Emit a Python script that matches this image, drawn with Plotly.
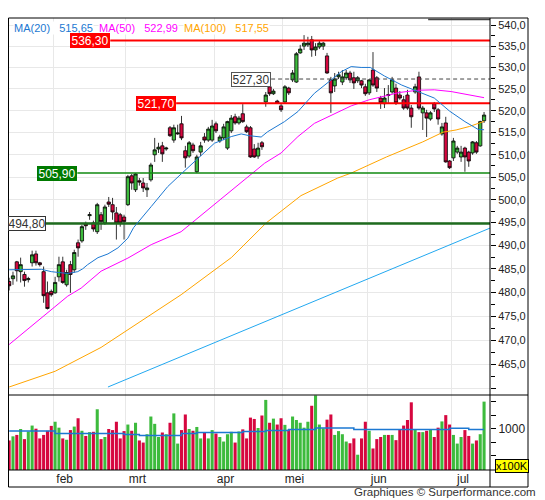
import math
import plotly.graph_objects as go

# one candle per trading day
opens = [482.3, 482.9, 486.5, 484.4, 483.8, 482.7, 486.3, 488.2, 486.3, 484.4,
         479.9, 480.2, 479.9, 483.3, 486.5, 481.6, 485.9, 484.8, 490.6, 491.0,
         494.7, 496.5, 494.9, 493.0, 496.7, 494.9, 499.5, 498.9, 497.1, 496.7,
         496.2, 498.9, 505.3, 502.2, 504.2, 503.7, 502.2, 504.4, 510.0, 511.3,
         512.0, 511.3, 516.1, 513.3, 514.7, 517.0, 510.9, 509.7, 512.2, 506.2,
         510.6, 514.0, 513.3, 513.3, 517.0, 513.1, 513.8, 511.5, 515.4, 518.6,
         517.2, 519.3, 516.3, 516.1, 511.3, 509.7, 512.7, 522.0, 525.5, 523.9,
         522.2, 521.1, 522.0, 525.2, 527.1, 526.6, 533.4, 535.0, 535.3, 536.5,
         534.1, 534.8, 535.0, 532.7, 527.1, 525.7, 527.8, 526.6, 527.6, 528.7,
         527.6, 526.9, 526.9, 525.5, 524.1, 529.4, 527.6, 522.9, 521.6, 523.7,
         524.3, 525.2, 523.6, 522.5, 523.6, 520.6, 524.3, 527.8, 519.5, 519.5,
         518.1, 521.6, 520.2, 514.7, 517.2, 508.6, 509.3, 510.6, 509.5, 511.5,
         510.6, 510.4, 512.7, 512.0, 517.7]
highs = [483.1, 484.4, 486.7, 487.4, 484.4, 483.3, 488.9, 488.9, 486.5, 485.5,
         482.3, 480.6, 483.3, 487.6, 487.6, 484.8, 486.7, 489.1, 491.3, 494.5,
         495.2, 497.3, 495.4, 499.3, 497.3, 498.9, 500.6, 500.4, 498.4, 497.1,
         496.7, 505.5, 505.7, 505.9, 504.8, 504.8, 503.7, 508.2, 513.8, 512.7,
         512.9, 511.8, 516.5, 516.8, 516.8, 518.8, 512.0, 513.1, 512.7, 510.0,
         512.9, 514.9, 516.3, 517.9, 517.5, 514.5, 517.0, 517.7, 519.0, 519.3,
         518.8, 521.5, 516.8, 516.5, 512.4, 512.7, 513.1, 524.3, 526.2, 525.0,
         522.5, 521.6, 525.9, 525.5, 529.4, 533.6, 535.3, 537.6, 537.2, 537.4,
         535.7, 536.2, 536.0, 533.4, 527.8, 528.7, 529.0, 529.4, 529.4, 529.2,
         529.0, 528.0, 527.1, 526.2, 527.3, 533.6, 528.0, 523.4, 525.2, 525.9,
         527.8, 526.2, 524.5, 523.4, 524.8, 521.3, 526.2, 529.0, 521.1, 520.2,
         519.9, 522.0, 520.6, 517.2, 518.6, 508.8, 513.8, 512.0, 512.0, 511.8,
         510.9, 513.1, 513.1, 517.7, 519.7]
lows = [480.4, 481.6, 482.3, 482.1, 481.2, 482.1, 485.5, 485.7, 485.5, 477.8,
        476.4, 479.1, 479.7, 482.3, 481.8, 481.2, 479.9, 484.2, 487.6, 490.6,
        493.4, 495.6, 493.0, 492.5, 493.4, 494.5, 498.4, 495.6, 491.3, 494.1,
        491.3, 498.6, 502.2, 501.7, 503.1, 501.7, 500.6, 504.0, 508.4, 510.4,
        508.4, 510.9, 514.0, 512.7, 514.5, 513.3, 507.1, 509.3, 510.4, 505.9,
        509.7, 512.7, 512.9, 512.9, 514.9, 512.7, 513.3, 511.1, 514.9, 516.8,
        516.8, 517.2, 514.9, 509.3, 509.3, 509.1, 511.1, 520.9, 523.4, 523.6,
        521.6, 519.7, 521.8, 523.6, 526.6, 526.4, 533.2, 534.1, 534.8, 532.5,
        532.7, 534.3, 534.1, 528.5, 519.5, 524.3, 527.3, 525.9, 527.1, 526.4,
        525.0, 526.4, 525.2, 523.4, 523.6, 525.5, 524.3, 520.4, 520.6, 521.8,
        523.9, 521.3, 522.5, 520.2, 520.2, 516.1, 523.9, 520.2, 515.6, 514.0,
        517.7, 519.7, 516.8, 514.3, 508.2, 506.8, 508.6, 510.2, 508.4, 506.2,
        507.3, 510.0, 510.2, 511.8, 517.2]
closes = [481.4, 483.5, 484.6, 485.9, 482.5, 482.9, 488.0, 486.3, 485.9, 479.3,
          476.6, 479.5, 482.1, 485.9, 482.1, 484.2, 483.8, 488.5, 489.5, 494.1,
          494.3, 496.7, 493.6, 498.9, 495.2, 498.4, 499.0, 497.3, 494.9, 494.9,
          495.2, 505.1, 503.7, 505.7, 503.9, 502.6, 502.6, 507.7, 511.1, 511.7,
          510.2, 511.5, 514.3, 516.1, 514.9, 513.8, 509.3, 512.7, 510.9, 509.5,
          512.0, 513.3, 515.8, 516.5, 515.4, 514.0, 516.3, 517.5, 518.3, 517.2,
          518.3, 517.5, 515.2, 509.5, 509.5, 511.5, 511.8, 523.6, 523.9, 524.5,
          521.7, 520.2, 525.5, 524.1, 528.7, 533.2, 534.3, 535.7, 535.7, 534.1,
          534.8, 535.7, 535.7, 528.7, 524.1, 527.3, 528.3, 527.8, 528.7, 527.1,
          526.4, 527.6, 525.9, 523.9, 527.1, 525.9, 525.2, 521.8, 522.9, 523.5,
          527.1, 521.8, 522.9, 520.6, 520.6, 518.6, 525.5, 520.6, 520.6, 518.3,
          519.5, 520.4, 518.1, 516.3, 508.4, 507.1, 513.1, 511.5, 510.6, 509.5,
          508.6, 512.9, 510.6, 517.5, 519.0]

# volume in units of 100K
volumes = [781, 858, 884, 994, 806, 948, 1058, 1000, 819, 884,
           961, 1052, 1129, 1019, 819, 794, 974, 1039, 1194, 961,
           865, 936, 942, 1361, 806, 845, 994, 974, 1129, 819,
           955, 1077, 961, 1110, 781, 742, 897, 1226, 1090, 845,
           929, 897, 1110, 1284, 723, 974, 1264, 994, 961, 1032,
           819, 923, 819, 974, 910, 845, 761, 897, 942, 742,
           948, 987, 819, 1206, 1181, 1013, 1245, 1535, 1110, 1187,
           1077, 1194, 1071, 981, 1226, 1161, 1110, 1019, 1129, 1426,
           1619, 1077, 1006, 1168, 1264, 884, 955, 897, 761, 729,
           819, 516, 819, 1129, 961, 632, 806, 845, 884, 884,
           884, 787, 994, 1058, 1161, 1490, 987, 936, 936, 961,
           987, 845, 1019, 1135, 1252, 1077, 884, 723, 845, 974,
           865, 723, 781, 897, 1503]
vol_ma_x = [0, 12, 30, 34, 45, 49, 61, 67, 73, 80, 90, 102, 115, 120, 124]
vol_ma_y = [955, 910, 890, 871, 910, 929, 948, 968, 987, 1013, 987, 987, 1006, 987, 987]

# month labels, index of first trading day of each month
month_names = ["feb", "mrt", "apr", "mei", "jun", "jul"]
month_start = [12, 31, 54, 72, 94, 116]

# moving averages
ma20_x = [0, 8.4, 11, 12.7, 15.3, 17.9, 19.2, 20.5, 23.2, 25.8, 28.4, 31, 32.5, 37.1, 41.4,
          44.9, 49.2, 53.6, 58, 60.6, 62.7, 65.8, 67.5, 71.9, 75.4, 79.7, 84.1, 86.7, 89.3,
          91.9, 94.3, 98, 102.5, 107, 111, 115, 119, 122.5, 124]
ma20_y = [484.8, 484.9, 484.4, 484.2, 484.0, 484.4, 485.0, 485.9, 487.4, 488.2, 489.5, 491.6,
          493.9, 498.5, 502.9, 505.7, 509.2, 512.6, 514.1, 514.7, 514.3, 514.0, 515.2, 517.5,
          519.8, 524.0, 527.1, 529.0, 530.2, 530.0, 530.0, 528.0, 525.9, 524.4, 522.9, 519.9,
          517.5, 515.7, 515.65]
ma50_x = [0, 7.9, 15.3, 18.8, 24, 31, 37.1, 44.9, 52.7, 61.4, 66.7, 71, 75.4, 79.7, 84.1,
          89.3, 94, 98, 102, 106.7, 111, 115.4, 119.8, 124]
ma50_y = [469.1, 474.3, 479.2, 480.9, 484.5, 487.3, 490.2, 493.0, 498.4, 504.4, 508.1, 510.4,
          514.1, 517.1, 519.0, 521.1, 522.5, 523.4, 524.2, 524.7, 524.8, 524.4, 523.6, 522.99]
ma100_x = [0, 12, 24, 35.2, 44.9, 58, 67.1, 76.2, 85.8, 89.3, 98.5, 108, 113.3, 116.7, 120.2, 124]
ma100_y = [460.4, 463.6, 468.5, 474.3, 479.5, 487.4, 494.9, 500.9, 504.8, 505.9, 509.5, 512.9,
           515.1, 515.6, 516.4, 517.55]
ma200_x = [25.8, 50, 75, 100, 124, 125.6]
ma200_y = [460.4, 468.3, 476.6, 485.0, 493.2, 493.8]

legend_names = ["MA(20)", "MA(50)", "MA(100)"]
legend_values = ["515,65", "522,99", "517,55"]

# horizontal levels: value, label, day where the line starts
level_values = [536.30, 527.30, 521.70, 505.90, 494.80]
level_labels = ["536,30", "527,30", "521,70", "505,90", "494,80"]
level_start = [26.4, 68.4, 43.6, 17.8, 9.6]

# short unlabeled level touching the top of the chart
top_level = 541.3
top_level_start = 109.4

price_ticks = [460 + 5 * k for k in range(17)]

GREEN = "#3DBB3D"
RED = "#D6073F"
X_MIN, X_MAX = -0.3, 125.55

# the page puts the figure 8px from the window corner; everything below is
# laid out in window pixels minus that offset
PAGE = 8
W, H = 545 - PAGE, 500 - PAGE
ML, MR, MT, MB = 0, 55, 10, 30
PW = W - ML - MR
PH = H - MT - MB


def px_x(px):
    return (px - PAGE - ML) / PW


def px_y(py):
    return (H - MB - (py - PAGE)) / PH


level_style = {
    "536,30": dict(line="#FF0000", width=2, dash="solid", bg="#FF0000", fg="white",
                   border="#FF0000", box=38),
    "527,30": dict(line="#444444", width=1, dash="4px,3px", bg="white", fg="#333333",
                   border="#555555", box=38),
    "521,70": dict(line="#FF0000", width=2, dash="solid", bg="#FF0000", fg="white",
                   border="#FF0000", box=38),
    "505,90": dict(line="#108A10", width=1.5, dash="solid", bg="#007A00", fg="white",
                   border="#007A00", box=38),
    "494,80": dict(line="#1E6B1E", width=2.5, dash="solid", bg="white", fg="#333333",
                   border="#333333", box=36),
}

days = list(range(len(closes)))
vol_colors = [GREEN if c >= o else RED for o, c in zip(opens, closes)]

fig = go.Figure()

fig.add_trace(go.Scatter(x=ma200_x, y=ma200_y, mode="lines",
                         line=dict(color="#22A8F0", width=1), hoverinfo="skip"))
fig.add_trace(go.Scatter(x=ma100_x, y=ma100_y, mode="lines",
                         line=dict(color="#FFA500", width=1), hoverinfo="skip"))
fig.add_trace(go.Scatter(x=ma50_x, y=ma50_y, mode="lines",
                         line=dict(color="#FF00FF", width=1), hoverinfo="skip"))

for val, lab, x0 in zip(level_values, level_labels, level_start):
    st = level_style[lab]
    fig.add_trace(go.Scatter(x=[x0, X_MAX], y=[val, val], mode="lines",
                             line=dict(color=st["line"], width=st["width"], dash=st["dash"]),
                             hoverinfo="skip"))
fig.add_trace(go.Scatter(x=[top_level_start, X_MAX], y=[top_level, top_level], mode="lines",
                         line=dict(color="#444444", width=1.5), hoverinfo="skip"))

fig.add_trace(go.Scatter(x=ma20_x, y=ma20_y, mode="lines",
                         line=dict(color="#1C78D2", width=1), hoverinfo="skip"))

fig.add_trace(go.Candlestick(
    x=days, open=opens, high=highs, low=lows, close=closes,
    increasing=dict(fillcolor=GREEN, line=dict(color="black", width=0.8)),
    decreasing=dict(fillcolor=RED, line=dict(color="black", width=0.8)),
    whiskerwidth=0,
))

fig.add_trace(go.Bar(x=days, y=volumes, marker=dict(color=vol_colors, line=dict(width=0)),
                     xaxis="x2", yaxis="y2", hoverinfo="skip"))
fig.add_trace(go.Scatter(x=vol_ma_x, y=vol_ma_y, mode="lines", line_shape="hv",
                         line=dict(color="#1C78D2", width=1.5), xaxis="x2", yaxis="y2",
                         hoverinfo="skip"))

VOL_TOP = 75 / PH  # volume panel is 75px tall
grid = "#E8E8E8"
fig.update_layout(
    width=W, height=H,
    margin=dict(l=ML, r=MR, t=MT, b=MB, pad=0),
    paper_bgcolor="white", plot_bgcolor="white",
    showlegend=False,
    boxgap=0.15, boxgroupgap=0,
    bargap=0.2,
    font=dict(family="Liberation Sans, Arial, sans-serif", size=11, color="#222222"),
    xaxis=dict(domain=[0, 1], anchor="y", range=[X_MIN, X_MAX],
               rangeslider=dict(visible=False),
               tickvals=[m - 0.5 for m in month_start], showticklabels=False, ticks="",
               showgrid=True, gridcolor=grid, zeroline=False, showline=False),
    xaxis2=dict(domain=[0, 1], anchor="y2", matches="x",
                tickvals=[m + 2.5 for m in month_start], ticktext=month_names,
                ticks="", showgrid=False, zeroline=False, showline=False,
                tickfont=dict(size=12, color="#222222"),
                minor=dict(tickmode="array", tickvals=[m - 0.5 for m in month_start],
                           showgrid=True, gridcolor=grid, ticks="")),
    yaxis=dict(domain=[VOL_TOP, 1], anchor="x", type="log", side="right",
               range=[math.log10(458.78), math.log10(541.67)],
               tickvals=price_ticks,
               ticktext=["" if v == 460 else f"{v:.1f}".replace(".", ",") for v in price_ticks],
               ticks="outside", ticklen=5, tickcolor="black",
               showgrid=True, gridcolor=grid, zeroline=False, showline=False,
               minor=dict(tickmode="array", tickvals=[v + 2.5 for v in price_ticks],
                          ticks="outside", ticklen=4, tickcolor="black", showgrid=False)),
    yaxis2=dict(domain=[0, VOL_TOP], anchor="x2", side="right", range=[232, 1626],
                tickvals=[500, 750, 1000, 1250, 1500], ticktext=["", "", "1000", "", ""],
                ticks="outside", ticklen=5, tickcolor="black",
                showgrid=False, zeroline=False, showline=False,
                tickfont=dict(size=12)),
)

# frame around the whole chart
FR = px_x(528)
FB = px_y(487)
FL = px_x(8.5)
frame = [
    dict(x0=FL, x1=FR, y0=FB, y1=1, type="rect"),
    dict(x0=1, x1=1, y0=FB, y1=1, type="line"),
    dict(x0=FL, x1=FR, y0=0, y1=0, type="line"),
    dict(x0=FL, x1=FR, y0=VOL_TOP, y1=VOL_TOP, type="line"),
]
for s in frame:
    fig.add_shape(xref="paper", yref="paper", line=dict(color="black", width=1), **s)

# legend of the moving averages
legend_colors = ["#1C78D2", "#FF00FF", "#FFA500"]
legend_px = [13, 98, 183]
for name, value, col, px in zip(legend_names, legend_values, legend_colors, legend_px):
    fig.add_annotation(xref="paper", yref="paper", x=px_x(px), y=px_y(27.5),
                       xanchor="left", yanchor="middle", showarrow=False,
                       text=name + "&nbsp;&nbsp;&nbsp;" + value,
                       font=dict(size=11, color=col), bgcolor="white", borderpad=0)

# level labels
for val, lab, x0 in zip(level_values, level_labels, level_start):
    st = level_style[lab]
    fig.add_annotation(xref="x", yref="y", x=x0, y=math.log10(val),
                       xanchor="right", yanchor="middle", showarrow=False,
                       text=lab, font=dict(size=12, color=st["fg"]),
                       bgcolor=st["bg"], bordercolor=st["border"], borderwidth=1,
                       borderpad=0, width=st["box"], height=13)

fig.add_annotation(xref="paper", yref="paper", x=px_x(512), y=px_y(465.5),
                   xanchor="center", yanchor="middle", showarrow=False,
                   text="x100K", font=dict(size=11, color="black"),
                   bgcolor="#FFFF00", bordercolor="black", borderwidth=1, borderpad=0)

fig.add_annotation(xref="paper", yref="paper", x=px_x(538), y=px_y(492),
                   xanchor="right", yanchor="middle", showarrow=False,
                   text="Graphiques © Surperformance.com",
                   font=dict(size=11.5, color="#333333"))

fig.write_html("out.html")
